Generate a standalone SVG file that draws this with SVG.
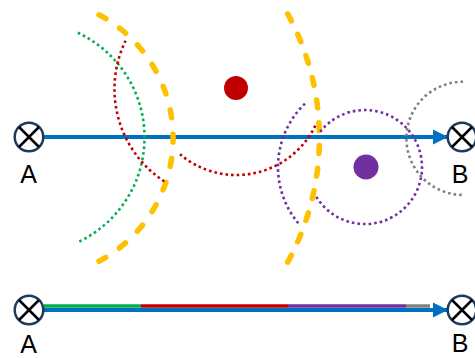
<svg xmlns="http://www.w3.org/2000/svg" width="475" height="358" viewBox="0 0 475 358">
<style>
.ring{fill:#fff;stroke:#1F3A5C;stroke-width:2.5}
.x{stroke:#000;stroke-width:2.5;stroke-linecap:butt}
.lbl{font-family:"Liberation Sans",Arial,sans-serif;font-size:25px;fill:#000;text-anchor:middle}
.blue{stroke:#0070C0;stroke-width:4;fill:none}
.dot{fill:none;stroke-width:2.6;stroke-dasharray:2.6 3}
.yel{fill:none;stroke:#FFC000;stroke-width:5.5;stroke-linecap:round}
</style>
<defs>
<marker id="arr" markerUnits="userSpaceOnUse" markerWidth="16" markerHeight="16" refX="15" refY="8" orient="auto">
<path d="M0,0.5 L15,8 L0,15.5 Z" fill="#0070C0"/>
</marker>
<g id="sym">
<circle class="ring" cx="0" cy="0" r="14.3"/>
<path class="x" d="M-10,-10 L10,10 M10,-10 L-10,10"/>
</g>
</defs>

<g id="connectors">
<line class="blue" x1="44" y1="137" x2="448" y2="137" marker-end="url(#arr)"/>
<line x1="44" y1="306" x2="141" y2="306" stroke="#00B050" stroke-width="3.5"/>
<line x1="141" y1="306" x2="288" y2="306" stroke="#C00000" stroke-width="3.5"/>
<line x1="288" y1="306" x2="406" y2="306" stroke="#7030A0" stroke-width="3.5"/>
<line x1="406" y1="306" x2="430" y2="306" stroke="#808080" stroke-width="3.5"/>
<line class="blue" x1="44" y1="310" x2="448" y2="310" marker-end="url(#arr)"/>
</g>

<g id="waves">
<path class="yel" stroke-dasharray="8 16.5" d="M99,14.8 A139.5,139.5 0 0 1 99,261.2"/>
<path class="yel" stroke-dasharray="8 14.8" d="M287.7,13.9 A258.5,258.5 0 0 1 287.7,262.1"/>
<path class="dot" stroke="#00B050" d="M77.8,32.8 A115.5,115.5 0 0 1 77.8,242.2"/>
<path class="dot" stroke="#C00000" d="M164.3,181.4 A110.5,110.5 0 0 1 125.6,40.7"/>
<path class="dot" stroke="#C00000" d="M315.3,125.6 A87.5,87.5 0 0 1 180,154.3"/>
<path class="dot" stroke="#7030A0" d="M298.3,223.2 A88,88 0 0 1 307.1,101.6"/>
<path class="dot" stroke="#7030A0" d="M320.2,131.8 A57,57 0 1 1 315.2,194.8"/>
<path class="dot" stroke="#808080" d="M463,81.7 A56.6,56.6 0 0 0 463,194.9"/>
</g>

<g id="red-source"><circle cx="236" cy="88" r="12" fill="#C00000"/></g>
<g id="purple-source"><circle cx="366" cy="167" r="12.5" fill="#7030A0"/></g>

<g id="node-A-top"><use href="#sym" x="29" y="137"/><text class="lbl" x="28.5" y="183">A</text></g>
<g id="node-B-top"><use href="#sym" x="462" y="137"/><text class="lbl" x="460" y="183">B</text></g>
<g id="node-A-bottom"><use href="#sym" x="29" y="310"/><text class="lbl" x="28.5" y="352.5">A</text></g>
<g id="node-B-bottom"><use href="#sym" x="462" y="310"/><text class="lbl" x="460" y="352">B</text></g>
</svg>
